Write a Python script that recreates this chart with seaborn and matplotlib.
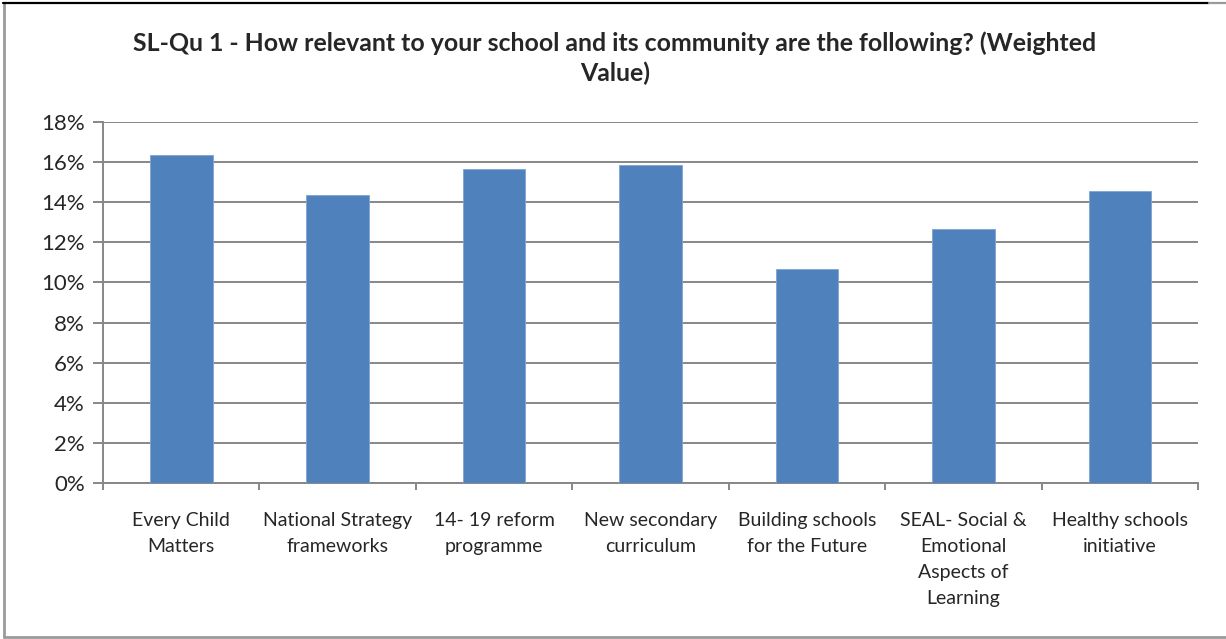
import matplotlib
matplotlib.use("Agg")
import matplotlib.pyplot as plt
from matplotlib.lines import Line2D
from matplotlib.ticker import FuncFormatter, FixedLocator
import seaborn as sns
import pandas as pd

# Survey categories and weighted relevance shares
categories = [
    "Every Child\nMatters",
    "National Strategy\nframeworks",
    "14- 19 reform\nprogramme",
    "New secondary\ncurriculum",
    "Building schools\nfor the Future",
    "SEAL- Social &\nEmotional\nAspects of\nLearning",
    "Healthy schools\ninitiative",
]
weighted_values = [0.1633, 0.1435, 0.1568, 0.1585, 0.1068, 0.1265, 0.1457]
y_ticks = [0.00, 0.02, 0.04, 0.06, 0.08, 0.10, 0.12, 0.14, 0.16, 0.18]

title_text = ("SL-Qu 1 - How relevant to your school and its community are the following? (Weighted\n"
              "Value)")

sns.set_style("white")
plt.rcParams["font.family"] = ["Lato", "DejaVu Sans"]

W, H = 1226, 639
fig = plt.figure(figsize=(W / 100, H / 100), dpi=100)
fig.patch.set_facecolor("white")

ax = fig.add_axes([103 / W, 1 - 483 / H, (1198 - 103) / W, (483 - 122) / H])

df = pd.DataFrame({"category": categories, "value": weighted_values})
sns.barplot(data=df, x="category", y="value", color="#4F81BD", saturation=1,
            width=0.4, ax=ax, edgecolor="#7FA3D3", linewidth=0.6, zorder=3)

ax.set_ylim(y_ticks[0], y_ticks[-1])
ax.set_xlim(-0.5, len(categories) - 0.5)
ax.yaxis.set_major_locator(FixedLocator(y_ticks))
ax.yaxis.set_major_formatter(FuncFormatter(lambda v, _: f"{v * 100:.0f}%"))
ax.set_xlabel("")
ax.set_ylabel("")

grid_color = "#878787"
ax.yaxis.grid(True, color=grid_color, linewidth=1.4, zorder=0)
ax.set_axisbelow(True)
for side in ("top", "right"):
    ax.spines[side].set_visible(False)
for side in ("left", "bottom"):
    ax.spines[side].set_color(grid_color)
    ax.spines[side].set_linewidth(1.4)

ax.tick_params(axis="y", which="major", direction="out", length=7, width=1.4,
               color=grid_color, labelsize=16, pad=6, left=True)
# category labels without tick marks; separators at the category boundaries
ax.tick_params(axis="x", which="major", length=0, labelsize=14, pad=21)
ax.set_xticks([i - 0.5 for i in range(len(categories) + 1)], minor=True)
ax.tick_params(axis="x", which="minor", direction="out", length=5, width=1.4,
               color=grid_color, bottom=True)
for lbl in ax.get_xticklabels():
    lbl.set_linespacing(1.63)
    lbl.set_verticalalignment("top")

fig.text(615 / W, 1 - 31 / H, title_text, ha="center", va="top",
         fontsize=17.9, fontweight="bold", linespacing=1.35)

# chart frame
frame_gray = "#9A9A9A"
fig.add_artist(Line2D([4 / W, 4 / W], [1 - 3 / H, 1 - 637 / H], color=frame_gray,
                      linewidth=2, transform=fig.transFigure))
fig.add_artist(Line2D([4 / W, 1.0], [1 - 637 / H, 1 - 637 / H], color=frame_gray,
                      linewidth=2, transform=fig.transFigure))
fig.add_artist(Line2D([3 / W, 1209 / W], [1 - 2.5 / H, 1 - 2.5 / H], color="black",
                      linewidth=1.6, transform=fig.transFigure))
fig.add_artist(Line2D([1209 / W, 1.0], [1 - 3 / H, 1 - 3 / H], color=frame_gray,
                      linewidth=1.6, transform=fig.transFigure))

fig.savefig("out.png", dpi=100, facecolor="white")
